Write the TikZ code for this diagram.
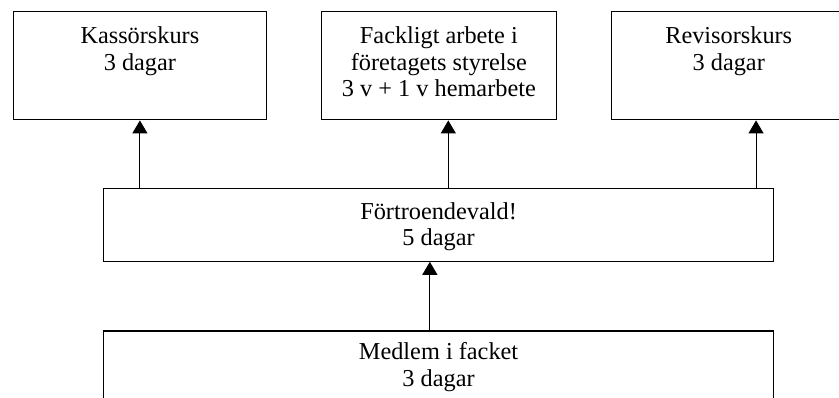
\documentclass[tikz,border=0pt]{standalone}
\usepackage{fontspec}
\setmainfont{Liberation Serif}
\usetikzlibrary{arrows.meta}
\tikzset{
  kurs/.style={draw, line width=1.1pt, minimum height=108.3pt, anchor=north west, inner sep=0pt},
  rubrik/.style={anchor=north, align=center, inner xsep=0pt, font=\fontsize{24.3}{26.5}\selectfont},
  pil/.style={->, line width=1pt}
}
\begin{document}
\begin{tikzpicture}[x=1pt, y=-1pt, >={Triangle[width=15pt,length=13pt]}, line join=miter]
  \useasboundingbox (0,0) rectangle (839,398);
  \clip (0,0) rectangle (839,398);

  % kurserna overst
  \node[kurs, minimum width=253.3pt, label={[rubrik, inner ysep=15.8pt]north:Kassörskurs\\3 dagar}] (kassor) at (12.7,11) {};
  \node[kurs, minimum width=235.3pt, label={[rubrik, inner ysep=15.8pt]north:Fackligt arbete i\\företagets styrelse\\3 v + 1 v hemarbete}] (fack) at (320.7,11) {};
  \node[kurs, minimum width=235pt, label={[rubrik, inner ysep=15.8pt]north:Revisorskurs\\3 dagar}] (revisor) at (610.7,11) {};

  % mitten och botten
  \node[kurs, minimum width=670.6pt, minimum height=72.4pt, label={[rubrik, inner ysep=13.8pt]north:Förtroendevald!\\5 dagar}] (fortroende) at (102.7,188.3) {};
  \node[kurs, minimum width=670.6pt, minimum height=80pt, label={[rubrik, inner ysep=12pt]north:Medlem i facket\\3 dagar}] (medlem) at (102.7,330.5) {};

  \coordinate (p2) at ([xshift=9.4pt]fack.south);
  \coordinate (p3) at ([xshift=27.3pt]revisor.south);
  \coordinate (p4) at ([xshift=-8.7pt]fortroende.south);

  \draw[pil] (kassor.south |- fortroende.north) -- (kassor.south);
  \draw[pil] (p2 |- fortroende.north) -- (p2);
  \draw[pil] (p3 |- fortroende.north) -- (p3);
  \draw[pil] (p4 |- medlem.north) -- (p4);
\end{tikzpicture}
\end{document}
